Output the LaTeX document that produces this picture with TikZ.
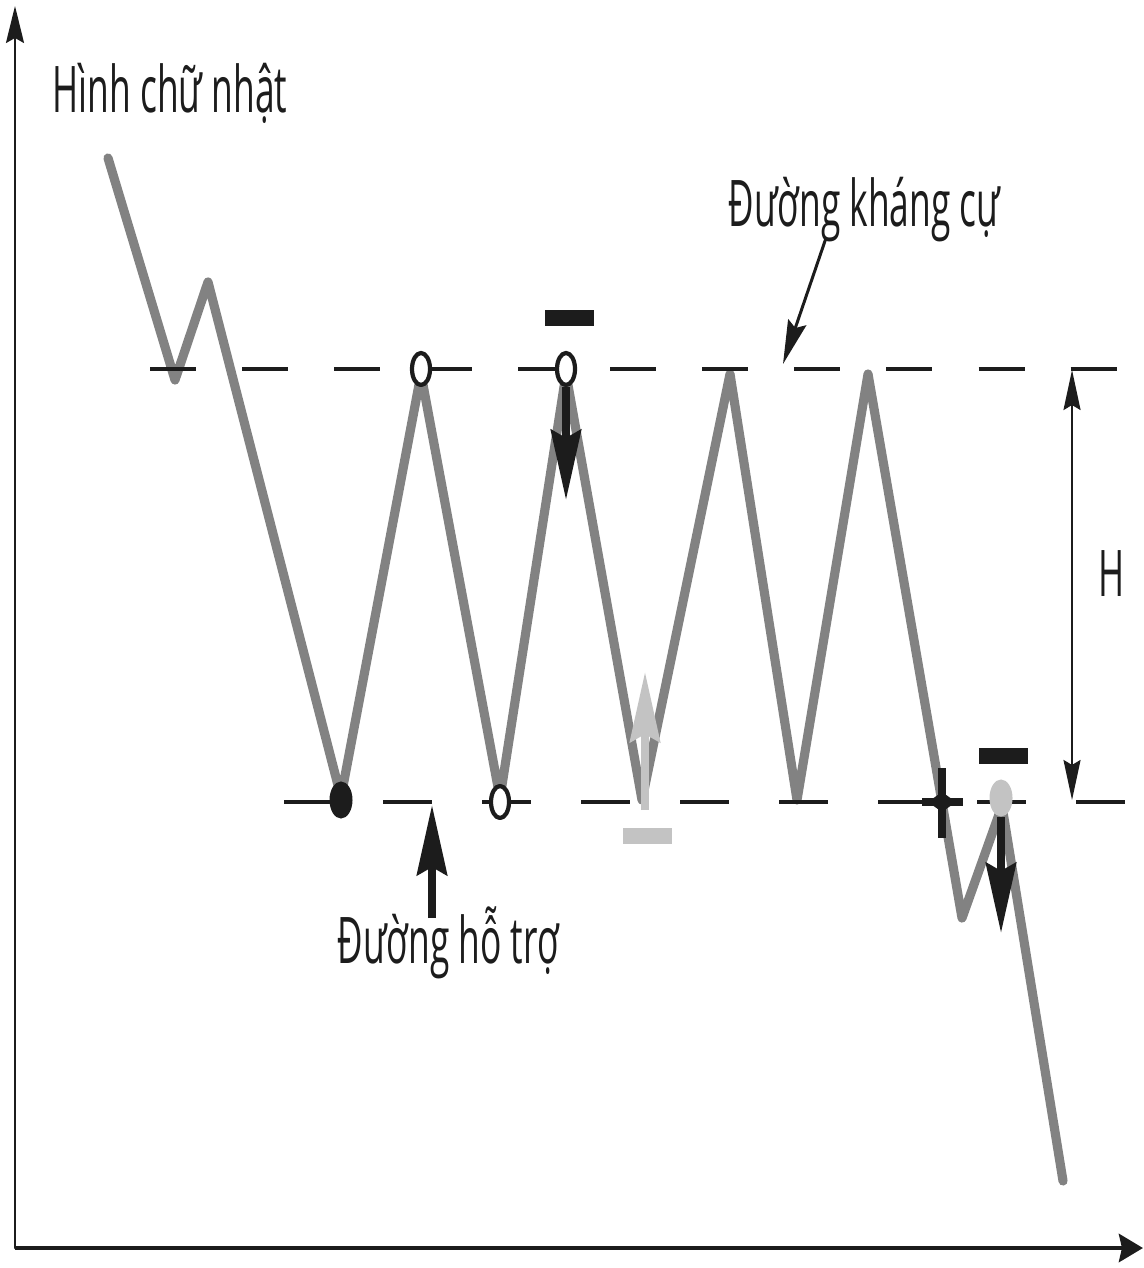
\documentclass[tikz,border=0pt]{standalone}
\usepackage{fontspec}
\newfontfamily\lblfont[FakeStretch=0.55]{Open Sans}
\usetikzlibrary{arrows.meta,shapes.geometric}
\definecolor{pricegray}{RGB}{130,130,130}
\definecolor{lightmark}{RGB}{195,195,195}
\definecolor{inkblack}{RGB}{28,28,28}

\begin{document}
\begin{tikzpicture}[x=0.01cm, y=-0.01cm, line cap=round, line join=round]
	\tikzset{
		axisline/.style={draw=inkblack, line width=0.6pt},
		levelline/.style={draw=inkblack, line width=1pt, line cap=butt},
		price/.style={draw=pricegray, line width=2.6pt},
		opendot/.style={ellipse, draw=inkblack, line width=1.2pt, fill=white, minimum width=0.18cm, minimum height=0.32cm, inner sep=0pt},
		fulldot/.style={ellipse, fill=#1, minimum width=0.23cm, minimum height=0.37cm, inner sep=0pt},
		bar/.style={rectangle, fill=#1, minimum width=0.49cm, minimum height=0.16cm, inner sep=0pt},
		bold/.style={draw=#1, line width=2.3pt, line cap=butt, -{Stealth[length=7mm, width=3mm, inset=0.8mm]}},
		pointer/.style={draw=inkblack, line width=0.85pt, line cap=butt, -{Stealth[length=4.4mm, width=1.9mm, inset=0.6mm]}},
		lbl/.style={font=\lblfont\fontsize{18.3pt}{20pt}\selectfont, text=inkblack, inner sep=0pt, anchor=base west}
	}
	\useasboundingbox (0,0) rectangle (1143,1268);
	% axes
	\coordinate (O) at (15,1248);
	\coordinate (ytop) at (15,6);
	\coordinate (xend) at (1143,1248);
	\draw[axisline, -{Stealth[length=3.7mm, width=1.8mm, inset=0.5mm]}] (O) -- (ytop);
	\draw[axisline, line width=1.4pt, line cap=butt, -{Stealth[length=2.4mm, width=2.8mm, inset=0.3mm]}] (O) -- (xend);
	% price path
	\foreach \n/\px/\py in {0/108/158, 1/175/380, 2/208/282, 3/341/797, 4/421/374, 5/500/798,
		6/566/374, 7/642/800, 8/730/374, 9/797/800, 10/868/374, 11/962/918, 12/1002/806, 13/1063/1181}
		\coordinate (p\n) at (\px,\py);
	\draw[price] (p0) \foreach \n in {1,...,13} { -- (p\n) };
	% resistance and support
	\coordinate (rl) at (150,369);
	\coordinate (rr) at (1125,369);
	\coordinate (sl) at (284,802);
	\coordinate (sr) at (1125,802);
	\draw[levelline, dash pattern=on 0.46cm off 0.46cm] (rl) -- (rr);
	\draw[levelline, dash pattern=on 0.49cm off 0.50cm] (sl) -- (sr);
	% markers
	\node[opendot] (r1) at (421,369) {};
	\node[opendot] (r2) at (566,369) {};
	\node[opendot] (s2) at (500,802) {};
	\node[fulldot=inkblack] (s1) at (341,800) {};
	\node[bar=inkblack] (b1) at (569,318) {};
	\node[bar=lightmark] (b2) at (647,836) {};
	\node[bar=inkblack] (b3) at (1003,756) {};
	\coordinate (dn1) at (566,500);
	\draw[bold=inkblack] (r2.south) -- (dn1);
	\coordinate (upbase) at (645,810);
	\coordinate (uptip) at (645,672);
	\draw[bold=lightmark] (upbase) -- (uptip);
	% breakout
	\coordinate (brk) at (942,802);
	\draw[inkblack, line width=2.2pt, line cap=butt] (brk) ++(-20,0) -- ++(41,0);
	\draw[inkblack, line width=2.4pt, line cap=butt] (brk) ++(0,-34) -- ++(0,70);
	\fill[inkblack] (brk) ++(-14,0) -- ++(14,-10) -- ++(14,10) -- ++(-14,10) -- cycle;
	\node[fulldot=lightmark] (g1) at (1001,798) {};
	\coordinate (dn2) at (1001,933);
	\draw[bold=inkblack] (g1.south) -- (dn2);
	% labels
	\node[lbl] (hcn) at (52,113) {Hình chữ nhật};
	\node[lbl] (khangcu) at (728,227) {Đường kháng cự};
	\node[lbl] (hotro) at (337,963) {Đường hỗ trợ};
	\node[lbl] (hlbl) at (1098,597) {H};
	\coordinate (kcstart) at (826,238);
	\coordinate (kctip) at (783,364);
	\draw[pointer] (kcstart) -- (kctip);
	\coordinate (htstart) at (432,918);
	\coordinate (httip) at (432,805);
	\draw[bold=inkblack] (htstart) -- (httip);
	\coordinate (htop) at (1072,370);
	\coordinate (hbot) at (1072,800);
	\draw[axisline, {Stealth[length=4mm, width=1.7mm, inset=0.5mm]}-{Stealth[length=4mm, width=1.7mm, inset=0.5mm]}] (htop) -- (hbot);
\end{tikzpicture}
\end{document}
